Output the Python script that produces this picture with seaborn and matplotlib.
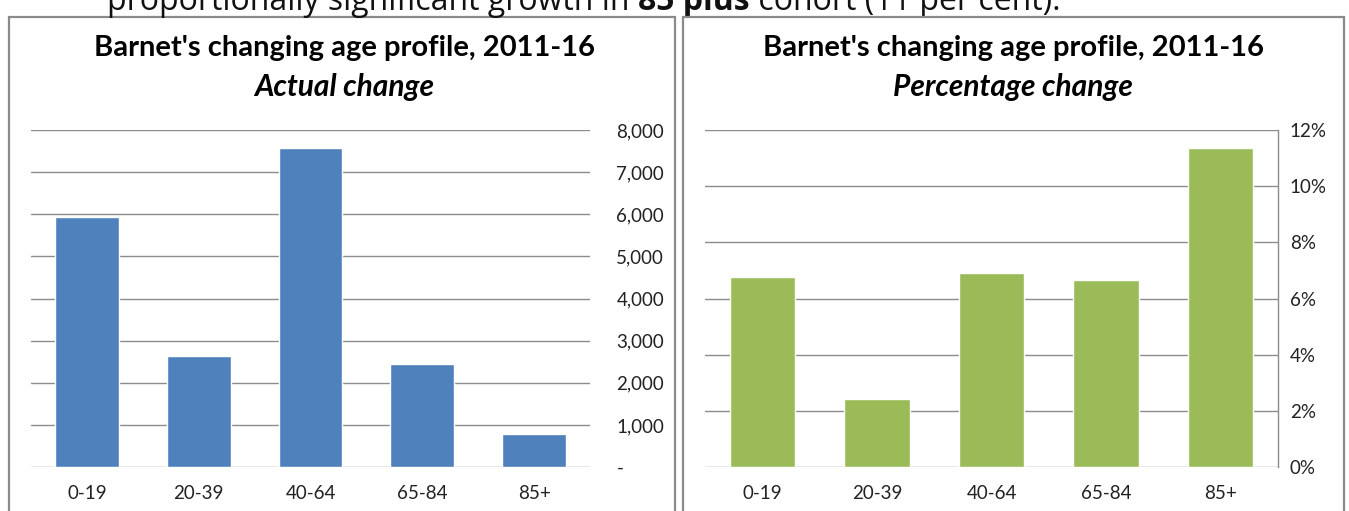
import matplotlib
matplotlib.use("Agg")
import matplotlib.pyplot as plt
import seaborn as sns
from matplotlib.patches import Rectangle
from matplotlib.ticker import FuncFormatter, MultipleLocator

# data
age_groups = ["0-19", "20-39", "40-64", "65-84", "85+"]
actual_change = [5940, 2640, 7580, 2450, 780]
pct_change = [6.76, 2.42, 6.90, 6.65, 11.35]

title = "Barnet's changing age profile, 2011-16"
sub_left = "Actual change"
sub_right = "Percentage change"

sns.set_theme(style="white")
plt.rcParams["font.family"] = ["Lato", "DejaVu Sans"]

W, H = 1349, 511
fig = plt.figure(figsize=(W / 100, H / 100), dpi=100)
fig.patch.set_facecolor("white")


def box(x0, y0, x1, y1):
    # pixel box -> figure fraction rect
    return [x0 / W, 1 - y1 / H, (x1 - x0) / W, (y1 - y0) / H]


grid_c = "#8c8c8c"
frame_c = "#8a8a8a"
top_font = ["Open Sans", "DejaVu Sans"]

# chart frames
for x0, x1 in [(9, 675), (683, 1344)]:
    fig.add_artist(Rectangle((x0 / W, -0.02), (x1 - x0) / W, 1 - 17 / H + 0.02,
                             transform=fig.transFigure, fill=False,
                             ec=frame_c, lw=1.6))

# cut-off sentence from the page above the charts
t1 = fig.text(107 / W, 1 - 10 / H, "proportionally significant growth in ",
              fontsize=23, family=top_font, va="baseline", color="#111111")
ax1 = fig.add_axes(box(31, 130, 590, 467))
ax2 = fig.add_axes(box(705, 130, 1278, 467))

t2 = ax1.annotate("85 plus", xy=(1, 0), xycoords=t1, va="bottom", ha="left",
                  fontsize=23, fontweight="bold", family=top_font,
                  annotation_clip=False, color="#111111")
ax1.annotate(" cohort (11 per cent).", xy=(1, 0), xycoords=t2, va="bottom", ha="left",
             fontsize=23, family=top_font, annotation_clip=False, color="#111111")

# titles
for cx, sub in [(344, sub_left), (1013, sub_right)]:
    fig.text(cx / W, 1 - 48 / H, title, ha="center", va="center",
             fontsize=21, fontweight="bold", color="black")
    fig.text(cx / W, 1 - 87 / H, sub, ha="center", va="center",
             fontsize=21.5, fontweight="bold", style="italic", color="black")

sns.barplot(x=age_groups, y=actual_change, color="#4F81BD", saturation=1,
            width=0.57, ax=ax1)
sns.barplot(x=age_groups, y=pct_change, color="#9BBB59", saturation=1,
            width=0.57, ax=ax2)

ax1.set_ylim(0, 8000)
ax1.yaxis.set_major_locator(MultipleLocator(1000))
ax1.yaxis.set_major_formatter(FuncFormatter(lambda v, p: "-" if v == 0 else f"{v:,.0f}"))
ax2.set_ylim(0, 12)
ax2.yaxis.set_major_locator(MultipleLocator(2))
ax2.yaxis.set_major_formatter(FuncFormatter(lambda v, p: f"{v:.0f}%"))

for ax, ypad in [(ax1, 19), (ax2, 8.5)]:
    ax.set_xlim(-0.5, 4.5)
    ax.set_facecolor("none")
    ax.set_xlabel("")
    ax.set_ylabel("")
    ax.yaxis.tick_right()
    ax.set_axisbelow(True)
    ax.yaxis.grid(True, color=grid_c, lw=1)
    ax.xaxis.grid(False)
    for s in ax.spines.values():
        s.set_visible(False)
    ax.tick_params(axis="y", length=0, pad=ypad, labelsize=13.5, labelcolor="#222222")
    ax.tick_params(axis="x", length=0, pad=13, labelsize=13.5, labelcolor="#222222")
    for lab in ax.get_yticklabels():
        lab.set_ha("left")

ax2.spines["right"].set_visible(True)
ax2.spines["right"].set_color(grid_c)
ax2.spines["right"].set_linewidth(1)

fig.savefig("out.png", dpi=100, facecolor="white")
